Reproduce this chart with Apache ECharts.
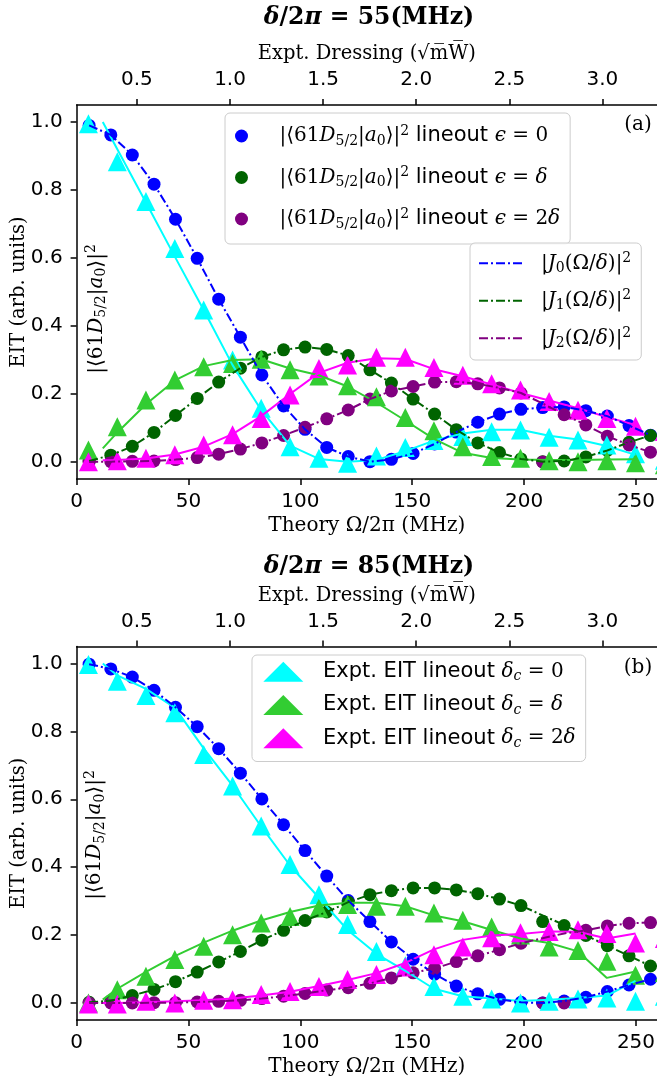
<!DOCTYPE html>
<html>
<head>
<meta charset="utf-8">
<script src="https://cdn.jsdelivr.net/npm/echarts@6/dist/echarts.min.js"></script>
<style>
  html, body { margin: 0; padding: 0; background: #ffffff; }
  #chart { width: 657px; height: 1085px; }
</style>
</head>
<body>
<div id="chart"></div>
<script>
// ---- sampling grids (Ω/2π in MHz) ----
const omegaTheory = [5.6, 15.3, 24.9, 34.6, 44.2, 53.9, 63.5, 73.2, 82.8, 92.5, 102.1, 111.8, 121.4, 131.1, 140.7, 150.4, 160.0, 169.7, 179.3, 189.0, 198.6, 208.3, 217.9, 227.6, 237.2, 246.9, 256.5];
const omegaExpt = [5.3, 18.2, 31.0, 43.9, 56.8, 69.7, 82.5, 95.4, 108.3, 121.1, 134.0, 146.9, 159.7, 172.6, 185.5, 198.4, 211.2, 224.1, 237.0, 249.8, 262.7];
const omegaSmooth = [11.7, 18.2, 31.0, 43.9, 56.8, 69.7, 82.5, 95.4, 108.3, 121.1, 134.0, 146.9, 159.7, 172.6, 185.5, 198.4, 211.2, 224.1, 237.0, 249.8];

// ---- tick labels ----
const omegaTicks = [0, 50, 100, 150, 200, 250];
const dressingTicks = [0.5, 1.0, 1.5, 2.0, 2.5, 3.0];
const eitTicks = [0, 0.2, 0.4, 0.6, 0.8, 1.0];

// ---- δ/2π = 55 MHz : simulated lineouts |<61D5/2|a0>|^2 ----
const lineout55_e0 = [0.990, 0.962, 0.903, 0.817, 0.714, 0.599, 0.479, 0.367, 0.256, 0.165, 0.096, 0.043, 0.016, 0.001, 0.008, 0.025, 0.053, 0.088, 0.117, 0.141, 0.155, 0.160, 0.162, 0.151, 0.135, 0.107, 0.079];
const lineout55_e1 = [0.003, 0.020, 0.046, 0.087, 0.137, 0.187, 0.235, 0.276, 0.309, 0.330, 0.338, 0.331, 0.313, 0.271, 0.232, 0.185, 0.141, 0.095, 0.056, 0.028, 0.009, 0.001, 0.003, 0.015, 0.034, 0.058, 0.078];
const lineout55_e2 = [0.000, 0.001, 0.002, 0.003, 0.007, 0.013, 0.023, 0.038, 0.056, 0.078, 0.102, 0.127, 0.153, 0.185, 0.209, 0.222, 0.235, 0.236, 0.230, 0.218, 0.203, 0.000, 0.139, 0.109, 0.076, 0.050, 0.029];
// |J_n(Ω/δ)|^2 curves
const bessel55_J0 = [0.990, 0.962, 0.903, 0.817, 0.714, 0.599, 0.479, 0.367, 0.256, 0.165, 0.096, 0.043, 0.016, 0.001, 0.008, 0.025, 0.053, 0.088, 0.117, 0.141, 0.155, 0.160, 0.162, 0.151, 0.135, 0.107, 0.079];
const bessel55_J1 = [0.003, 0.020, 0.046, 0.087, 0.137, 0.187, 0.235, 0.276, 0.309, 0.330, 0.338, 0.331, 0.313, 0.271, 0.232, 0.185, 0.141, 0.095, 0.056, 0.028, 0.009, 0.001, 0.003, 0.015, 0.034, 0.058, 0.078];
const bessel55_J2 = [0.000, 0.001, 0.002, 0.003, 0.007, 0.013, 0.023, 0.038, 0.056, 0.078, 0.102, 0.127, 0.153, 0.185, 0.209, 0.222, 0.235, 0.236, 0.230, 0.218, 0.203, 0.172, 0.139, 0.109, 0.076, 0.050, 0.029];
// measured EIT lineouts
const expt55_d0 = [0.995, 0.883, 0.766, 0.628, 0.447, 0.300, 0.158, 0.045, 0.011, -0.004, 0.018, 0.043, 0.063, 0.075, 0.089, 0.094, 0.073, 0.065, 0.050, 0.024, 0.005];
const expt55_d1 = [0.035, 0.104, 0.182, 0.241, 0.280, 0.290, 0.302, 0.271, 0.253, 0.224, 0.192, 0.131, 0.092, 0.045, 0.016, 0.011, 0.004, 0.001, 0.004, -0.002, -0.008];
const expt55_d2 = [0.001, 0.004, 0.011, 0.021, 0.050, 0.080, 0.128, 0.197, 0.275, 0.285, 0.308, 0.308, 0.278, 0.255, 0.230, 0.212, 0.178, 0.152, 0.128, 0.105, 0.090];
// smoothed EIT traces
const smooth55_d0 = [1.000, 0.920, 0.763, 0.604, 0.447, 0.285, 0.153, 0.048, 0.009, 0.001, 0.006, 0.032, 0.063, 0.084, 0.095, 0.095, 0.077, 0.066, 0.047, 0.021];
const smooth55_d1 = [0.040, 0.087, 0.170, 0.240, 0.282, 0.300, 0.302, 0.275, 0.255, 0.222, 0.175, 0.122, 0.068, 0.027, 0.012, 0.007, 0.006, 0.006, 0.007, 0.008];
const smooth55_d2 = [0.005, 0.006, 0.010, 0.022, 0.045, 0.082, 0.135, 0.200, 0.262, 0.292, 0.305, 0.303, 0.273, 0.252, 0.228, 0.203, 0.181, 0.158, 0.132, 0.109];

// ---- δ/2π = 85 MHz ----
const lineout85_e0 = [0.998, 0.984, 0.960, 0.921, 0.871, 0.814, 0.749, 0.677, 0.601, 0.525, 0.449, 0.374, 0.302, 0.240, 0.180, 0.129, 0.085, 0.050, 0.027, 0.011, 0.002, 0.000, 0.006, 0.017, 0.034, 0.053, 0.070];
const lineout85_e1 = [0.002, 0.007, 0.022, 0.040, 0.063, 0.091, 0.121, 0.152, 0.185, 0.214, 0.243, 0.268, 0.297, 0.319, 0.331, 0.339, 0.339, 0.333, 0.322, 0.306, 0.287, 0.240, 0.228, 0.199, 0.169, 0.139, 0.109];
const lineout85_e2 = [0.000, 0.000, 0.000, 0.001, 0.001, 0.003, 0.005, 0.008, 0.013, 0.020, 0.028, 0.038, 0.045, 0.058, 0.074, 0.089, 0.102, 0.122, 0.139, 0.157, 0.176, 0.000, 0.000, 0.214, 0.227, 0.235, 0.237];
const bessel85_J0 = [0.998, 0.984, 0.960, 0.921, 0.871, 0.814, 0.749, 0.677, 0.601, 0.525, 0.449, 0.374, 0.302, 0.240, 0.180, 0.129, 0.085, 0.050, 0.027, 0.011, 0.002, 0.000, 0.006, 0.017, 0.034, 0.053, 0.070];
const bessel85_J1 = [0.002, 0.007, 0.022, 0.040, 0.063, 0.091, 0.121, 0.152, 0.185, 0.214, 0.243, 0.268, 0.297, 0.319, 0.331, 0.339, 0.339, 0.333, 0.322, 0.306, 0.287, 0.258, 0.230, 0.199, 0.169, 0.139, 0.109];
const bessel85_J2 = [0.000, 0.000, 0.000, 0.001, 0.001, 0.003, 0.005, 0.008, 0.013, 0.020, 0.028, 0.038, 0.045, 0.058, 0.074, 0.089, 0.102, 0.122, 0.139, 0.157, 0.176, 0.191, 0.205, 0.214, 0.227, 0.235, 0.237];
const expt85_d0 = [0.997, 0.948, 0.906, 0.855, 0.732, 0.639, 0.521, 0.408, 0.319, 0.231, 0.152, 0.110, 0.049, 0.020, 0.012, 0.000, 0.005, 0.012, 0.015, 0.005, 0.020];
const expt85_d1 = [0.000, 0.039, 0.079, 0.128, 0.167, 0.201, 0.236, 0.255, 0.280, 0.290, 0.285, 0.285, 0.265, 0.244, 0.224, 0.200, 0.165, 0.155, 0.123, 0.082, 0.090];
const expt85_d2 = [-0.003, -0.003, 0.005, 0.000, 0.008, 0.010, 0.025, 0.034, 0.049, 0.069, 0.084, 0.106, 0.142, 0.165, 0.192, 0.207, 0.211, 0.216, 0.205, 0.177, 0.190];
const smooth85_d0 = [1.000, 0.965, 0.925, 0.870, 0.750, 0.640, 0.520, 0.405, 0.310, 0.215, 0.145, 0.095, 0.042, 0.020, 0.013, 0.006, 0.010, 0.015, 0.022, 0.065];
const smooth85_d1 = [0.010, 0.042, 0.092, 0.138, 0.178, 0.213, 0.243, 0.268, 0.287, 0.295, 0.295, 0.285, 0.258, 0.241, 0.215, 0.190, 0.177, 0.152, 0.074, 0.093];
const smooth85_d2 = [0.000, 0.000, 0.002, 0.005, 0.008, 0.013, 0.022, 0.033, 0.050, 0.068, 0.088, 0.118, 0.158, 0.186, 0.199, 0.203, 0.211, 0.210, 0.190, 0.205];

// ---- styling ----
const THEORY_COLORS = ['#0000ff', '#006400', '#800080'];
const EXPT_COLORS = ['#00ffff', '#32cd32', '#ff00ff'];
const DASH_DOT = [9, 3, 2, 3];
const SERIF = 'DejaVu Serif';
const SANS = 'DejaVu Sans';

const mathRich = {
  n:   { fontFamily: SERIF, fontSize: 20, lineHeight: 24, color: '#000' },
  i:   { fontFamily: SERIF, fontStyle: 'italic', fontSize: 20, lineHeight: 24, color: '#000' },
  sb:  { fontFamily: SERIF, fontSize: 14, lineHeight: 14, verticalAlign: 'bottom', color: '#000' },
  sbi: { fontFamily: SERIF, fontStyle: 'italic', fontSize: 14, lineHeight: 14, verticalAlign: 'bottom', color: '#000' },
  sp:  { fontFamily: SERIF, fontSize: 14, lineHeight: 14, verticalAlign: 'top', color: '#000' },
  s:   { fontFamily: SANS, fontSize: 21, lineHeight: 24, color: '#000' }
};
const titleRich = {
  b:  { fontFamily: SERIF, fontWeight: 'bold', fontSize: 23.5, color: '#000' },
  bi: { fontFamily: SERIF, fontWeight: 'bold', fontStyle: 'italic', fontSize: 23.5, color: '#000' }
};

const braket = '{n||⟨61}{i|D}{sb|5/2}{n||}{i|a}{sb|0}{n|⟩|}{sp|2}';

// series names and their legend texts
const theoryNames = ['lineout ϵ=0 @55', 'lineout ϵ=δ @55', 'lineout ϵ=2δ @55'];
const theoryLabels = [
  braket + '{s| lineout }{i|ϵ}{n| = 0}',
  braket + '{s| lineout }{i|ϵ}{n| = }{i|δ}',
  braket + '{s| lineout }{i|ϵ}{n| = 2}{i|δ}'
];
const besselNames = ['|J0|² @55', '|J1|² @55', '|J2|² @55'];
const besselLabels = [0, 1, 2].map(k => '{n||}{i|J}{sb|' + k + '}{n|(Ω/}{i|δ}{n|)|}{sp|2}');
const exptNames = ['Expt. EIT δc=0 @85', 'Expt. EIT δc=δ @85', 'Expt. EIT δc=2δ @85'];
const exptLabels = [
  '{s|Expt. EIT lineout }{i|δ}{sbi|c}{n| = 0}',
  '{s|Expt. EIT lineout }{i|δ}{sbi|c}{n| = }{i|δ}',
  '{s|Expt. EIT lineout }{i|δ}{sbi|c}{n| = 2}{i|δ}'
];
const labelOf = {};
theoryNames.forEach((n, i) => labelOf[n] = theoryLabels[i]);
besselNames.forEach((n, i) => labelOf[n] = besselLabels[i]);
exptNames.forEach((n, i) => labelOf[n] = exptLabels[i]);

function pairs(xs, ys) { return xs.map((x, i) => [x, ys[i]]); }

function circles(name, ys, panel, color) {
  return { type: 'scatter', name, xAxisIndex: panel * 2, yAxisIndex: panel,
    data: pairs(omegaTheory, ys), symbol: 'circle', symbolSize: 13,
    itemStyle: { color, opacity: 1 }, silent: true };
}
function triangles(name, ys, panel, color) {
  return { type: 'scatter', name, xAxisIndex: panel * 2, yAxisIndex: panel,
    data: pairs(omegaExpt, ys), symbol: 'triangle', symbolSize: [19, 19], clip: false,
    itemStyle: { color, opacity: 1 }, silent: true };
}
function smoothLine(name, ys, panel, color) {
  return { type: 'line', name, xAxisIndex: panel * 2, yAxisIndex: panel,
    data: pairs(omegaSmooth, ys), symbol: 'none', showSymbol: false,
    lineStyle: { color, width: 2 }, itemStyle: { color }, silent: true };
}
function besselLine(name, ys, panel, color) {
  return { type: 'line', name, xAxisIndex: panel * 2, yAxisIndex: panel,
    data: pairs(omegaTheory, ys), symbol: 'none', showSymbol: false,
    lineStyle: { color, width: 2, type: DASH_DOT }, itemStyle: { color }, silent: true };
}

const panels = [
  { lineout: [lineout55_e0, lineout55_e1, lineout55_e2], bessel: [bessel55_J0, bessel55_J1, bessel55_J2],
    expt: [expt55_d0, expt55_d1, expt55_d2], smooth: [smooth55_d0, smooth55_d1, smooth55_d2],
    theoryNames: theoryNames, besselNames: besselNames,
    exptNames: ['Expt. EIT δc=0 @55', 'Expt. EIT δc=δ @55', 'Expt. EIT δc=2δ @55'] },
  { lineout: [lineout85_e0, lineout85_e1, lineout85_e2], bessel: [bessel85_J0, bessel85_J1, bessel85_J2],
    expt: [expt85_d0, expt85_d1, expt85_d2], smooth: [smooth85_d0, smooth85_d1, smooth85_d2],
    theoryNames: ['lineout ϵ=0 @85', 'lineout ϵ=δ @85', 'lineout ϵ=2δ @85'],
    besselNames: ['|J0|² @85', '|J1|² @85', '|J2|² @85'], exptNames: exptNames }
];

const series = [];
panels.forEach((p, pi) => {
  for (let k = 0; k < 3; k++) series.push(circles(p.theoryNames[k], p.lineout[k], pi, THEORY_COLORS[k]));
  for (let k = 0; k < 3; k++) series.push(triangles(p.exptNames[k], p.expt[k], pi, EXPT_COLORS[k]));
  for (let k = 0; k < 3; k++) series.push(smoothLine('smoothed ' + p.exptNames[k], p.smooth[k], pi, EXPT_COLORS[k]));
  for (let k = 0; k < 3; k++) series.push(besselLine(p.besselNames[k], p.bessel[k], pi, THEORY_COLORS[k]));
});

const GRID_LEFT = 76.6, GRID_WIDTH = 580.4;
const gridTops = [105, 646.5];
const gridHeights = [374, 373.5];

const axisLineStyle = { color: '#000', width: 1.5 };
const tickFont = { color: '#000', fontFamily: SANS, fontSize: 20 };

function bottomAxis(g) {
  return { gridIndex: g, type: 'value', position: 'bottom', min: 0, max: 259.4,
    name: 'Theory Ω/2π (MHz)', nameLocation: 'middle', nameGap: 37, nameMoveOverlap: false,
    nameTextStyle: { color: '#000', fontFamily: SERIF, fontSize: 20 },
    axisLine: { show: true, onZero: false, lineStyle: axisLineStyle },
    axisTick: { show: true, inside: false, length: 6, lineStyle: axisLineStyle, customValues: omegaTicks },
    axisLabel: Object.assign({ margin: 13, customValues: omegaTicks, formatter: v => String(v) }, tickFont),
    splitLine: { show: false } };
}
function topAxis(g) {
  return { gridIndex: g, type: 'value', position: 'top', min: 0.176, max: 3.293,
    name: 'Expt. Dressing (√m̅W̅)', nameLocation: 'middle', nameGap: 41, nameMoveOverlap: false,
    nameTextStyle: { color: '#000', fontFamily: SERIF, fontSize: 19.5 },
    axisLine: { show: true, onZero: false, lineStyle: axisLineStyle },
    axisTick: { show: true, inside: false, length: 6, lineStyle: axisLineStyle, customValues: dressingTicks },
    axisLabel: Object.assign({ margin: 15, customValues: dressingTicks, formatter: v => v.toFixed(1) }, tickFont),
    splitLine: { show: false } };
}
function leftAxis(g) {
  return { gridIndex: g, type: 'value', position: 'left', min: -0.05, max: 1.05,
    name: 'EIT (arb. units)', nameLocation: 'middle', nameGap: 48, nameRotate: 90, nameMoveOverlap: false,
    nameTextStyle: { color: '#000', fontFamily: SERIF, fontSize: 19.5 },
    axisLine: { show: true, onZero: false, lineStyle: axisLineStyle },
    axisTick: { show: true, inside: false, length: 6, lineStyle: axisLineStyle, customValues: eitTicks },
    axisLabel: Object.assign({ margin: 14, customValues: eitTicks, formatter: v => v.toFixed(1) }, tickFont),
    splitLine: { show: false } };
}

const legendBase = {
  orient: 'vertical', selectedMode: false,
  backgroundColor: 'rgba(255,255,255,0.8)', borderColor: '#cccccc', borderWidth: 1, borderRadius: 5,
  formatter: name => labelOf[name]
};

const option = {
  animation: false,
  backgroundColor: '#ffffff',
  grid: gridTops.map((t, i) => ({ left: GRID_LEFT, top: t, width: GRID_WIDTH, height: gridHeights[i], outerBoundsMode: 'none' })),
  xAxis: [bottomAxis(0), topAxis(0), bottomAxis(1), topAxis(1)],
  yAxis: [leftAxis(0), leftAxis(1)],
  legend: [
    Object.assign({}, legendBase, {
      data: theoryNames.map(n => ({ name: n, icon: 'circle' })),
      left: 225, top: 113, padding: [11, 10, 13, 10], itemWidth: 40, itemHeight: 13, itemGap: 17.5,
      textStyle: { width: 280, padding: [0, 0, 0, 13], rich: mathRich }
    }),
    Object.assign({}, legendBase, {
      data: besselNames,
      left: 470, top: 243, padding: [8.3, 10, 9.7, 8], itemWidth: 44, itemHeight: 14, itemGap: 13.5,
      itemStyle: { opacity: 0 },
      textStyle: { width: 101, padding: [0, 0, 0, 13], rich: mathRich }
    }),
    Object.assign({}, legendBase, {
      data: exptNames.map(n => ({ name: n, icon: 'triangle' })),
      left: 252, top: 655, padding: [6.3, 10, 11.3, 11.3], itemWidth: 40, itemHeight: 20, itemGap: 10.7,
      textStyle: { width: 244, padding: [0, 0, 0, 14.7], rich: mathRich }
    })
  ],
  graphic: [
    { type: 'text', x: 369, y: 18.3, silent: true,
      style: { text: '{bi|δ}{b|/2}{bi|π}{b| = 55(MHz)}', rich: titleRich, align: 'center', verticalAlign: 'middle' } },
    { type: 'text', x: 369, y: 566.7, silent: true,
      style: { text: '{bi|δ}{b|/2}{bi|π}{b| = 85(MHz)}', rich: titleRich, align: 'center', verticalAlign: 'middle' } },
    { type: 'text', x: 638, y: 125, silent: true,
      style: { text: '(a)', fontFamily: SERIF, fontSize: 20, fill: '#000', align: 'center', verticalAlign: 'middle' } },
    { type: 'text', x: 638, y: 668, silent: true,
      style: { text: '(b)', fontFamily: SERIF, fontSize: 20, fill: '#000', align: 'center', verticalAlign: 'middle' } },
    { type: 'text', x: 96.7, y: 309, rotation: Math.PI / 2, silent: true,
      style: { text: braket, rich: mathRich, align: 'center', verticalAlign: 'middle' } },
    { type: 'text', x: 95, y: 835, rotation: Math.PI / 2, silent: true,
      style: { text: braket, rich: mathRich, align: 'center', verticalAlign: 'middle' } }
  ],
  series: series
};

const chart = echarts.init(document.getElementById('chart'), null, { renderer: 'canvas' });
chart.setOption(option);
</script>
</body>
</html>
